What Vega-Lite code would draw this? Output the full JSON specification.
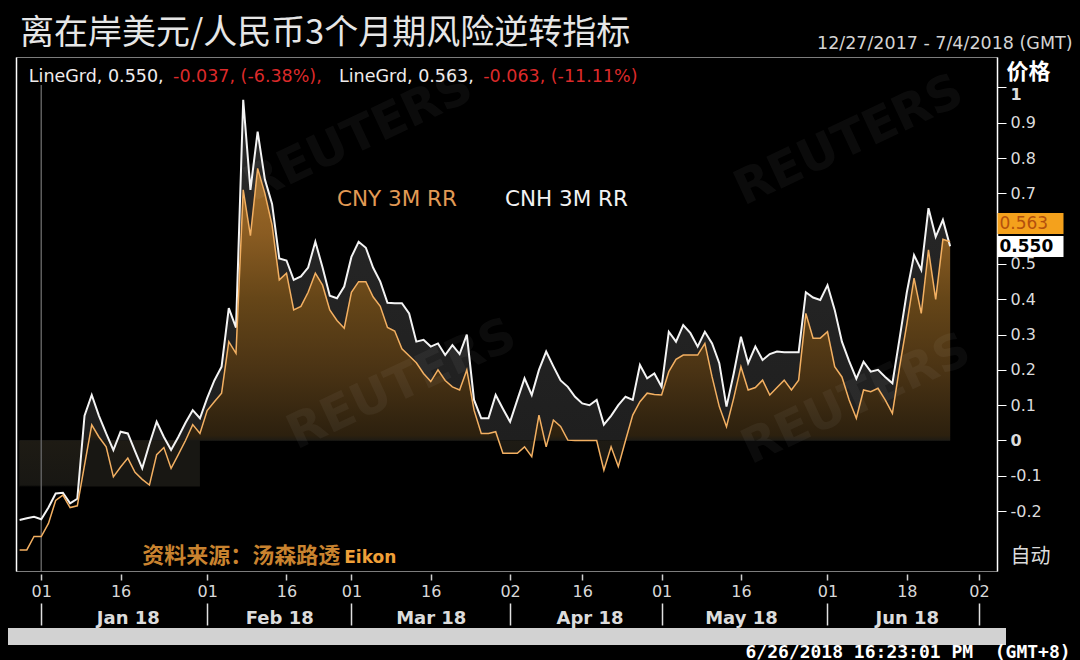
{
  "$schema": "https://vega.github.io/schema/vega-lite/v6.json",
  "width": 981,
  "height": 514,
  "autosize": {"type": "none"},
  "padding": {"left": 16, "top": 57, "right": 83, "bottom": 89},
  "background": "#000000",
  "title": {"text": "离在岸美元/人民币3个月期风险逆转指标", "anchor": "start", "frame": "group", "orient": "top", "offset": -44, "dx": 4, "baseline": "alphabetic", "font": "Noto Sans CJK SC", "fontSize": 34, "fontWeight": "normal", "color": "#e6e6e6"},
  "data": {"values": [
    {"date": "2017-12-27", "cnh": -0.225, "cny": -0.31},
    {"date": "2017-12-28", "cnh": -0.22, "cny": -0.31},
    {"date": "2017-12-29", "cnh": -0.216, "cny": -0.272},
    {"date": "2018-01-01", "cnh": -0.223, "cny": -0.272},
    {"date": "2018-01-02", "cnh": -0.19, "cny": -0.235},
    {"date": "2018-01-03", "cnh": -0.15, "cny": -0.17},
    {"date": "2018-01-04", "cnh": -0.148, "cny": -0.155},
    {"date": "2018-01-05", "cnh": -0.178, "cny": -0.19},
    {"date": "2018-01-08", "cnh": -0.165, "cny": -0.185},
    {"date": "2018-01-09", "cnh": 0.07, "cny": -0.07},
    {"date": "2018-01-10", "cnh": 0.129, "cny": 0.044},
    {"date": "2018-01-11", "cnh": 0.07, "cny": 0.01},
    {"date": "2018-01-12", "cnh": 0.02, "cny": -0.018},
    {"date": "2018-01-15", "cnh": -0.027, "cny": -0.103},
    {"date": "2018-01-16", "cnh": 0.025, "cny": -0.075},
    {"date": "2018-01-17", "cnh": 0.02, "cny": -0.05},
    {"date": "2018-01-18", "cnh": -0.03, "cny": -0.09},
    {"date": "2018-01-19", "cnh": -0.079, "cny": -0.11},
    {"date": "2018-01-22", "cnh": -0.01, "cny": -0.126},
    {"date": "2018-01-23", "cnh": 0.053, "cny": -0.04},
    {"date": "2018-01-24", "cnh": 0.01, "cny": -0.02},
    {"date": "2018-01-25", "cnh": -0.027, "cny": -0.079},
    {"date": "2018-01-26", "cnh": 0.01, "cny": -0.04},
    {"date": "2018-01-29", "cnh": 0.05, "cny": 0.0},
    {"date": "2018-01-30", "cnh": 0.086, "cny": 0.045},
    {"date": "2018-01-31", "cnh": 0.063, "cny": 0.02},
    {"date": "2018-02-01", "cnh": 0.12, "cny": 0.085},
    {"date": "2018-02-02", "cnh": 0.17, "cny": 0.11},
    {"date": "2018-02-05", "cnh": 0.209, "cny": 0.134},
    {"date": "2018-02-06", "cnh": 0.375, "cny": 0.28},
    {"date": "2018-02-07", "cnh": 0.32, "cny": 0.247},
    {"date": "2018-02-08", "cnh": 0.965, "cny": 0.71},
    {"date": "2018-02-09", "cnh": 0.71, "cny": 0.58},
    {"date": "2018-02-12", "cnh": 0.875, "cny": 0.771},
    {"date": "2018-02-13", "cnh": 0.74, "cny": 0.70},
    {"date": "2018-02-14", "cnh": 0.67, "cny": 0.61},
    {"date": "2018-02-15", "cnh": 0.516, "cny": 0.455},
    {"date": "2018-02-16", "cnh": 0.51, "cny": 0.474},
    {"date": "2018-02-19", "cnh": 0.455, "cny": 0.37},
    {"date": "2018-02-20", "cnh": 0.465, "cny": 0.38},
    {"date": "2018-02-21", "cnh": 0.49, "cny": 0.42},
    {"date": "2018-02-22", "cnh": 0.563, "cny": 0.474},
    {"date": "2018-02-23", "cnh": 0.49, "cny": 0.44},
    {"date": "2018-02-26", "cnh": 0.41, "cny": 0.37},
    {"date": "2018-02-27", "cnh": 0.403, "cny": 0.34},
    {"date": "2018-02-28", "cnh": 0.436, "cny": 0.318},
    {"date": "2018-03-01", "cnh": 0.52, "cny": 0.42},
    {"date": "2018-03-02", "cnh": 0.563, "cny": 0.45},
    {"date": "2018-03-05", "cnh": 0.546, "cny": 0.45},
    {"date": "2018-03-06", "cnh": 0.49, "cny": 0.407},
    {"date": "2018-03-07", "cnh": 0.45, "cny": 0.38},
    {"date": "2018-03-08", "cnh": 0.39, "cny": 0.32},
    {"date": "2018-03-09", "cnh": 0.389, "cny": 0.31},
    {"date": "2018-03-12", "cnh": 0.389, "cny": 0.26},
    {"date": "2018-03-13", "cnh": 0.36, "cny": 0.24},
    {"date": "2018-03-14", "cnh": 0.28, "cny": 0.22},
    {"date": "2018-03-15", "cnh": 0.285, "cny": 0.19},
    {"date": "2018-03-16", "cnh": 0.266, "cny": 0.167},
    {"date": "2018-03-19", "cnh": 0.275, "cny": 0.2},
    {"date": "2018-03-20", "cnh": 0.242, "cny": 0.17},
    {"date": "2018-03-21", "cnh": 0.27, "cny": 0.152},
    {"date": "2018-03-22", "cnh": 0.245, "cny": 0.143},
    {"date": "2018-03-23", "cnh": 0.30, "cny": 0.2},
    {"date": "2018-03-26", "cnh": 0.115, "cny": 0.086},
    {"date": "2018-03-27", "cnh": 0.063, "cny": 0.02},
    {"date": "2018-03-28", "cnh": 0.063, "cny": 0.02},
    {"date": "2018-03-29", "cnh": 0.129, "cny": 0.025},
    {"date": "2018-03-30", "cnh": 0.09, "cny": -0.036},
    {"date": "2018-04-02", "cnh": 0.053, "cny": -0.036},
    {"date": "2018-04-03", "cnh": 0.115, "cny": -0.036},
    {"date": "2018-04-04", "cnh": 0.176, "cny": -0.018},
    {"date": "2018-04-05", "cnh": 0.129, "cny": -0.046},
    {"date": "2018-04-06", "cnh": 0.2, "cny": 0.072},
    {"date": "2018-04-09", "cnh": 0.252, "cny": -0.018},
    {"date": "2018-04-10", "cnh": 0.21, "cny": 0.058},
    {"date": "2018-04-11", "cnh": 0.17, "cny": 0.04},
    {"date": "2018-04-12", "cnh": 0.152, "cny": 0.001},
    {"date": "2018-04-13", "cnh": 0.124, "cny": 0.0},
    {"date": "2018-04-16", "cnh": 0.105, "cny": 0.0},
    {"date": "2018-04-17", "cnh": 0.10, "cny": 0.0},
    {"date": "2018-04-18", "cnh": 0.115, "cny": 0.0},
    {"date": "2018-04-19", "cnh": 0.045, "cny": -0.084},
    {"date": "2018-04-20", "cnh": 0.07, "cny": -0.018},
    {"date": "2018-04-23", "cnh": 0.10, "cny": -0.074},
    {"date": "2018-04-24", "cnh": 0.124, "cny": 0.0},
    {"date": "2018-04-25", "cnh": 0.115, "cny": 0.072},
    {"date": "2018-04-26", "cnh": 0.214, "cny": 0.11},
    {"date": "2018-04-27", "cnh": 0.176, "cny": 0.134},
    {"date": "2018-04-30", "cnh": 0.19, "cny": 0.13},
    {"date": "2018-05-01", "cnh": 0.152, "cny": 0.129},
    {"date": "2018-05-02", "cnh": 0.308, "cny": 0.195},
    {"date": "2018-05-03", "cnh": 0.28, "cny": 0.23},
    {"date": "2018-05-04", "cnh": 0.327, "cny": 0.242},
    {"date": "2018-05-07", "cnh": 0.304, "cny": 0.242},
    {"date": "2018-05-08", "cnh": 0.266, "cny": 0.242},
    {"date": "2018-05-09", "cnh": 0.308, "cny": 0.275},
    {"date": "2018-05-10", "cnh": 0.275, "cny": 0.18},
    {"date": "2018-05-11", "cnh": 0.219, "cny": 0.096},
    {"date": "2018-05-14", "cnh": 0.096, "cny": 0.039},
    {"date": "2018-05-15", "cnh": 0.19, "cny": 0.12},
    {"date": "2018-05-16", "cnh": 0.294, "cny": 0.209},
    {"date": "2018-05-17", "cnh": 0.219, "cny": 0.143},
    {"date": "2018-05-18", "cnh": 0.266, "cny": 0.15},
    {"date": "2018-05-21", "cnh": 0.228, "cny": 0.171},
    {"date": "2018-05-22", "cnh": 0.245, "cny": 0.129},
    {"date": "2018-05-23", "cnh": 0.252, "cny": 0.15},
    {"date": "2018-05-24", "cnh": 0.25, "cny": 0.171},
    {"date": "2018-05-25", "cnh": 0.25, "cny": 0.143},
    {"date": "2018-05-28", "cnh": 0.25, "cny": 0.171},
    {"date": "2018-05-29", "cnh": 0.42, "cny": 0.36},
    {"date": "2018-05-30", "cnh": 0.405, "cny": 0.29},
    {"date": "2018-05-31", "cnh": 0.398, "cny": 0.29},
    {"date": "2018-06-01", "cnh": 0.44, "cny": 0.308},
    {"date": "2018-06-04", "cnh": 0.37, "cny": 0.209},
    {"date": "2018-06-05", "cnh": 0.28, "cny": 0.18},
    {"date": "2018-06-06", "cnh": 0.225, "cny": 0.115},
    {"date": "2018-06-07", "cnh": 0.175, "cny": 0.063},
    {"date": "2018-06-08", "cnh": 0.223, "cny": 0.143},
    {"date": "2018-06-11", "cnh": 0.195, "cny": 0.138},
    {"date": "2018-06-12", "cnh": 0.2, "cny": 0.148},
    {"date": "2018-06-13", "cnh": 0.18, "cny": 0.115},
    {"date": "2018-06-14", "cnh": 0.162, "cny": 0.077},
    {"date": "2018-06-15", "cnh": 0.29, "cny": 0.209},
    {"date": "2018-06-18", "cnh": 0.42, "cny": 0.33},
    {"date": "2018-06-19", "cnh": 0.525, "cny": 0.46},
    {"date": "2018-06-20", "cnh": 0.483, "cny": 0.36},
    {"date": "2018-06-21", "cnh": 0.658, "cny": 0.54},
    {"date": "2018-06-22", "cnh": 0.577, "cny": 0.40},
    {"date": "2018-06-25", "cnh": 0.625, "cny": 0.57},
    {"date": "2018-06-26", "cnh": 0.55, "cny": 0.563}
  ]},
  "resolve": {"axis": {"x": "independent", "y": "independent"}},
  "layer": [
    {
      "data": {"values": [{"start": "2017-12-27", "end": "2018-01-31", "top": 0, "bottom": -0.13}]},
      "mark": {"type": "rect", "color": "#181713"},
      "encoding": {
        "x": {"field": "start", "type": "ordinal",
          "scale": {"type": "point", "padding": 0.5, "domain": ["2017-12-27","2017-12-28","2017-12-29","2018-01-01","2018-01-02","2018-01-03","2018-01-04","2018-01-05","2018-01-08","2018-01-09","2018-01-10","2018-01-11","2018-01-12","2018-01-15","2018-01-16","2018-01-17","2018-01-18","2018-01-19","2018-01-22","2018-01-23","2018-01-24","2018-01-25","2018-01-26","2018-01-29","2018-01-30","2018-01-31","2018-02-01","2018-02-02","2018-02-05","2018-02-06","2018-02-07","2018-02-08","2018-02-09","2018-02-12","2018-02-13","2018-02-14","2018-02-15","2018-02-16","2018-02-19","2018-02-20","2018-02-21","2018-02-22","2018-02-23","2018-02-26","2018-02-27","2018-02-28","2018-03-01","2018-03-02","2018-03-05","2018-03-06","2018-03-07","2018-03-08","2018-03-09","2018-03-12","2018-03-13","2018-03-14","2018-03-15","2018-03-16","2018-03-19","2018-03-20","2018-03-21","2018-03-22","2018-03-23","2018-03-26","2018-03-27","2018-03-28","2018-03-29","2018-03-30","2018-04-02","2018-04-03","2018-04-04","2018-04-05","2018-04-06","2018-04-09","2018-04-10","2018-04-11","2018-04-12","2018-04-13","2018-04-16","2018-04-17","2018-04-18","2018-04-19","2018-04-20","2018-04-23","2018-04-24","2018-04-25","2018-04-26","2018-04-27","2018-04-30","2018-05-01","2018-05-02","2018-05-03","2018-05-04","2018-05-07","2018-05-08","2018-05-09","2018-05-10","2018-05-11","2018-05-14","2018-05-15","2018-05-16","2018-05-17","2018-05-18","2018-05-21","2018-05-22","2018-05-23","2018-05-24","2018-05-25","2018-05-28","2018-05-29","2018-05-30","2018-05-31","2018-06-01","2018-06-04","2018-06-05","2018-06-06","2018-06-07","2018-06-08","2018-06-11","2018-06-12","2018-06-13","2018-06-14","2018-06-15","2018-06-18","2018-06-19","2018-06-20","2018-06-21","2018-06-22","2018-06-25","2018-06-26","2018-06-27","2018-06-28","2018-06-29","2018-07-02","2018-07-03","2018-07-04"]},
          "axis": null},
        "x2": {"field": "end"},
        "y": {"field": "top", "type": "quantitative", "scale": {"domain": [-0.3697, 1.0864], "nice": false, "zero": false}, "axis": null},
        "y2": {"field": "bottom"}
      }
    },
    {
      "mark": {"type": "area", "interpolate": "linear", "color": {"gradient": "linear", "x1": 0, "y1": 0, "x2": 0, "y2": 1, "stops": [{"offset": 0, "color": "#292929"}, {"offset": 0.81, "color": "#1f1f1f"}, {"offset": 0.92, "color": "#181713"}, {"offset": 0.925, "color": "#000000"}, {"offset": 1, "color": "#000000"}]}},
      "encoding": {
        "x": {"field": "date", "type": "ordinal",
          "axis": {"orient": "bottom", "offset": 3, "values": ["2018-01-01","2018-01-16","2018-02-01","2018-02-16","2018-03-01","2018-03-16","2018-04-02","2018-04-16","2018-05-01","2018-05-16","2018-06-01","2018-06-18","2018-07-02"], "labelExpr": "substring(datum.value, 8, 10)", "domain": false, "ticks": true, "tickSize": 6, "tickColor": "#d0d0d0", "tickWidth": 1.5, "labelPadding": 16.5, "labelBaseline": "alphabetic", "labelFont": "DejaVu Sans", "labelFontSize": 16, "labelColor": "#d8d8d8", "labelAngle": 0, "labelOverlap": false, "labelBound": false, "title": null, "grid": false}},
        "y": {"field": "cnh", "type": "quantitative",
          "axis": {"orient": "right", "values": [1, 0.9, 0.8, 0.7, 0.5, 0.4, 0.3, 0.2, 0.1, 0, -0.1, -0.2, -0.33], "labelExpr": "datum.value < -0.3 ? '自动' : '' + datum.value", "domain": true, "domainColor": "#ffffff", "domainWidth": 1.5, "ticks": true, "tickSize": 9, "tickWidth": 1, "tickColor": {"condition": {"test": "datum.value < -0.3", "value": "transparent"}, "value": "#ffffff"}, "labelPadding": 4, "labelOffset": {"condition": {"test": "datum.value == 1", "value": 7}, "value": 0}, "labelFont": "DejaVu Sans, Noto Sans CJK SC", "labelFontSize": {"condition": {"test": "datum.value < -0.3", "value": 20}, "value": 16}, "labelColor": "#dcdcdc", "labelFontWeight": {"condition": {"test": "datum.value == 1 || datum.value == 0", "value": "bold"}, "value": "normal"}, "labelAlign": "left", "labelBaseline": "middle", "labelOverlap": false, "labelBound": false, "labelFlush": false, "grid": false, "title": "价格", "titleAngle": 0, "titleX": 9, "titleY": 21, "titleAlign": "left", "titleBaseline": "alphabetic", "titleFont": "Noto Sans CJK SC", "titleFontSize": 22, "titleFontWeight": "bold", "titleColor": "#ffffff"}},
        "y2": {"datum": 0}
      }
    },
    {
      "mark": {"type": "area", "interpolate": "linear", "color": {"gradient": "linear", "x1": 0, "y1": 0, "x2": 0, "y2": 1, "stops": [{"offset": 0, "color": "#a06c28"}, {"offset": 0.17, "color": "#8a5c22"}, {"offset": 0.34, "color": "#664618"}, {"offset": 0.53, "color": "#4a3314"}, {"offset": 0.7, "color": "#2c200e"}, {"offset": 0.713, "color": "#1e1b14"}, {"offset": 0.83, "color": "#181713"}, {"offset": 0.835, "color": "#000000"}, {"offset": 1, "color": "#000000"}]}},
      "encoding": {
        "x": {"field": "date", "type": "ordinal", "axis": {"orient": "bottom", "offset": 32, "values": ["2018-01-01","2018-02-01","2018-03-01","2018-04-02","2018-05-01","2018-06-01","2018-07-02"], "domain": false, "labels": false, "ticks": true, "tickSize": 22, "tickColor": "#e0e0e0", "tickWidth": 1.5, "title": null, "grid": false}},
        "y": {"field": "cny", "type": "quantitative", "axis": {"orient": "right", "values": [0.616, 0.5496], "domain": false, "grid": false, "ticks": true, "tickSize": 66, "tickWidth": 21, "tickCap": "butt", "tickColor": {"condition": {"test": "datum.value > 0.6", "value": "#f4a11c"}, "value": "#ffffff"}, "labelExpr": "datum.value > 0.6 ? '0.563' : '0.550'", "labelPadding": -64, "labelAlign": "left", "labelBaseline": "middle", "labelFont": "DejaVu Sans", "labelFontSize": 17, "labelColor": {"condition": {"test": "datum.value > 0.6", "value": "#b4500c"}, "value": "#000000"}, "labelFontWeight": {"condition": {"test": "datum.value > 0.6", "value": "normal"}, "value": "bold"}, "labelOverlap": false, "labelBound": false, "labelFlush": false, "title": null, "zindex": 1}},
        "y2": {"datum": 0}
      }
    },
    {
      "data": {"values": [
        {"date": "2018-03-02", "value": 0.86, "label": "REUTERS"},
        {"date": "2018-03-12", "value": 0.157, "label": "REUTERS"},
        {"date": "2018-06-06", "value": 0.848, "label": "REUTERS"},
        {"date": "2018-06-07", "value": 0.115, "label": "REUTERS"}
      ]},
      "mark": {"type": "text", "font": "DejaVu Sans", "fontSize": 48, "fontWeight": "bold", "angle": -25, "align": "center", "baseline": "middle", "color": "#ffffff", "opacity": 0.045},
      "encoding": {
        "x": {"field": "date", "type": "ordinal", "axis": {"orient": "bottom", "offset": 32, "values": ["2018-01-17","2018-02-15","2018-03-16","2018-04-17","2018-05-16","2018-06-18"], "labelExpr": "utcFormat(toDate(datum.value), '%b %y')", "ticks": false, "tickSize": 0, "domain": false, "labelPadding": 20, "labelBaseline": "alphabetic", "labelFont": "DejaVu Sans", "labelFontSize": 18, "labelFontWeight": "bold", "labelColor": "#dcdcdc", "labelAngle": 0, "labelOverlap": false, "labelBound": false, "title": null, "grid": false}},
        "y": {"field": "value", "type": "quantitative", "axis": {"orient": "left", "domain": true, "domainColor": "#ffffff", "domainWidth": 1.5, "ticks": false, "labels": false, "grid": false, "title": null}},
        "text": {"field": "label"}
      }
    },
    {
      "data": {"values": [{"date": "2018-01-01", "top": 1.007, "bottom": -0.3697}]},
      "mark": {"type": "rule", "color": "#5e5e5e", "strokeWidth": 1.5},
      "encoding": {
        "x": {"field": "date", "type": "ordinal", "axis": {"orient": "top", "domain": false, "ticks": false, "labels": false, "grid": false, "title": "12/27/2017 - 7/4/2018 (GMT)", "titleX": 1056, "titleY": -9, "titleAlign": "right", "titleBaseline": "alphabetic", "titleFont": "DejaVu Sans", "titleFontSize": 17.5, "titleFontWeight": "normal", "titleColor": "#d4d4d4"}},
        "y": {"field": "top", "type": "quantitative", "axis": null},
        "y2": {"field": "bottom"}
      }
    },
    {
      "mark": {"type": "line", "color": "#f4f4f4", "strokeWidth": 2},
      "encoding": {
        "x": {"field": "date", "type": "ordinal", "axis": {"orient": "bottom", "offset": 65, "domain": true, "domainColor": "#d2d2d2", "domainWidth": 17, "domainCap": "square", "ticks": false, "labels": false, "grid": false, "title": "6/26/2018 16:23:01 PM\u00a0\u00a0(GMT+8)", "titleX": 729, "titleY": 21, "titleAlign": "left", "titleBaseline": "alphabetic", "titleFont": "DejaVu Sans Mono", "titleFontSize": 18, "titleFontWeight": "bold", "titleColor": "#ffffff"}},
        "y": {"field": "cnh", "type": "quantitative", "axis": null}
      }
    },
    {
      "mark": {"type": "line", "color": "#f3b062", "strokeWidth": 1.5},
      "encoding": {
        "x": {"field": "date", "type": "ordinal", "axis": null},
        "y": {"field": "cny", "type": "quantitative", "axis": null}
      }
    },
    {
      "data": {"values": [
        {"date": "2017-12-28", "value": 1.0142, "label": "LineGrd, 0.550,"},
        {"date": "2018-02-27", "value": 1.0142, "label": "LineGrd, 0.563,"}
      ]},
      "mark": {"type": "text", "font": "DejaVu Sans", "fontSize": 17.5, "align": "left", "baseline": "alphabetic", "dx": 2, "color": "#f0ecec"},
      "encoding": {
        "x": {"field": "date", "type": "ordinal", "axis": null},
        "y": {"field": "value", "type": "quantitative", "axis": null},
        "text": {"field": "label"}
      }
    },
    {
      "data": {"values": [
        {"date": "2018-01-25", "value": 1.0142, "label": "-0.037, (-6.38%),"},
        {"date": "2018-03-27", "value": 1.0142, "label": "-0.063, (-11.11%)"}
      ]},
      "mark": {"type": "text", "font": "DejaVu Sans", "fontSize": 17.5, "align": "left", "baseline": "alphabetic", "dx": 2, "color": "#dc2a2a"},
      "encoding": {
        "x": {"field": "date", "type": "ordinal", "axis": null},
        "y": {"field": "value", "type": "quantitative", "axis": null},
        "text": {"field": "label"}
      }
    },
    {
      "data": {"values": [{"date": "2018-02-27", "value": 0.664, "label": "CNY 3M RR"}]},
      "mark": {"type": "text", "font": "DejaVu Sans", "fontSize": 21.5, "align": "left", "baseline": "alphabetic", "color": "#e29a55"},
      "encoding": {
        "x": {"field": "date", "type": "ordinal", "axis": null},
        "y": {"field": "value", "type": "quantitative", "axis": null},
        "text": {"field": "label"}
      }
    },
    {
      "data": {"values": [{"date": "2018-03-30", "value": 0.664, "label": "CNH 3M RR"}]},
      "mark": {"type": "text", "font": "DejaVu Sans", "fontSize": 21.5, "align": "left", "baseline": "alphabetic", "dx": 2, "color": "#f2f2f2"},
      "encoding": {
        "x": {"field": "date", "type": "ordinal", "axis": null},
        "y": {"field": "value", "type": "quantitative", "axis": null},
        "text": {"field": "label"}
      }
    },
    {
      "data": {"values": [{"date": "2018-01-19", "value": -0.347, "label": "资料来源：汤森路透"}]},
      "mark": {"type": "text", "font": "Noto Sans CJK SC", "fontSize": 22, "fontWeight": "bold", "align": "left", "baseline": "alphabetic", "color": "#c9832f"},
      "encoding": {
        "x": {"field": "date", "type": "ordinal", "axis": null},
        "y": {"field": "value", "type": "quantitative", "axis": null},
        "text": {"field": "label"}
      }
    },
    {
      "data": {"values": [{"date": "2018-02-28", "value": -0.347, "label": "Eikon"}]},
      "mark": {"type": "text", "font": "DejaVu Sans", "fontSize": 17, "fontWeight": "bold", "align": "left", "baseline": "alphabetic", "color": "#f0a038"},
      "encoding": {
        "x": {"field": "date", "type": "ordinal", "axis": null},
        "y": {"field": "value", "type": "quantitative", "axis": null},
        "text": {"field": "label"}
      }
    }
  ],
  "config": {
    "view": {"stroke": "#7d7d7d", "strokeWidth": 1, "fill": "#000000"},
    "axis": {"grid": false}
  }
}
